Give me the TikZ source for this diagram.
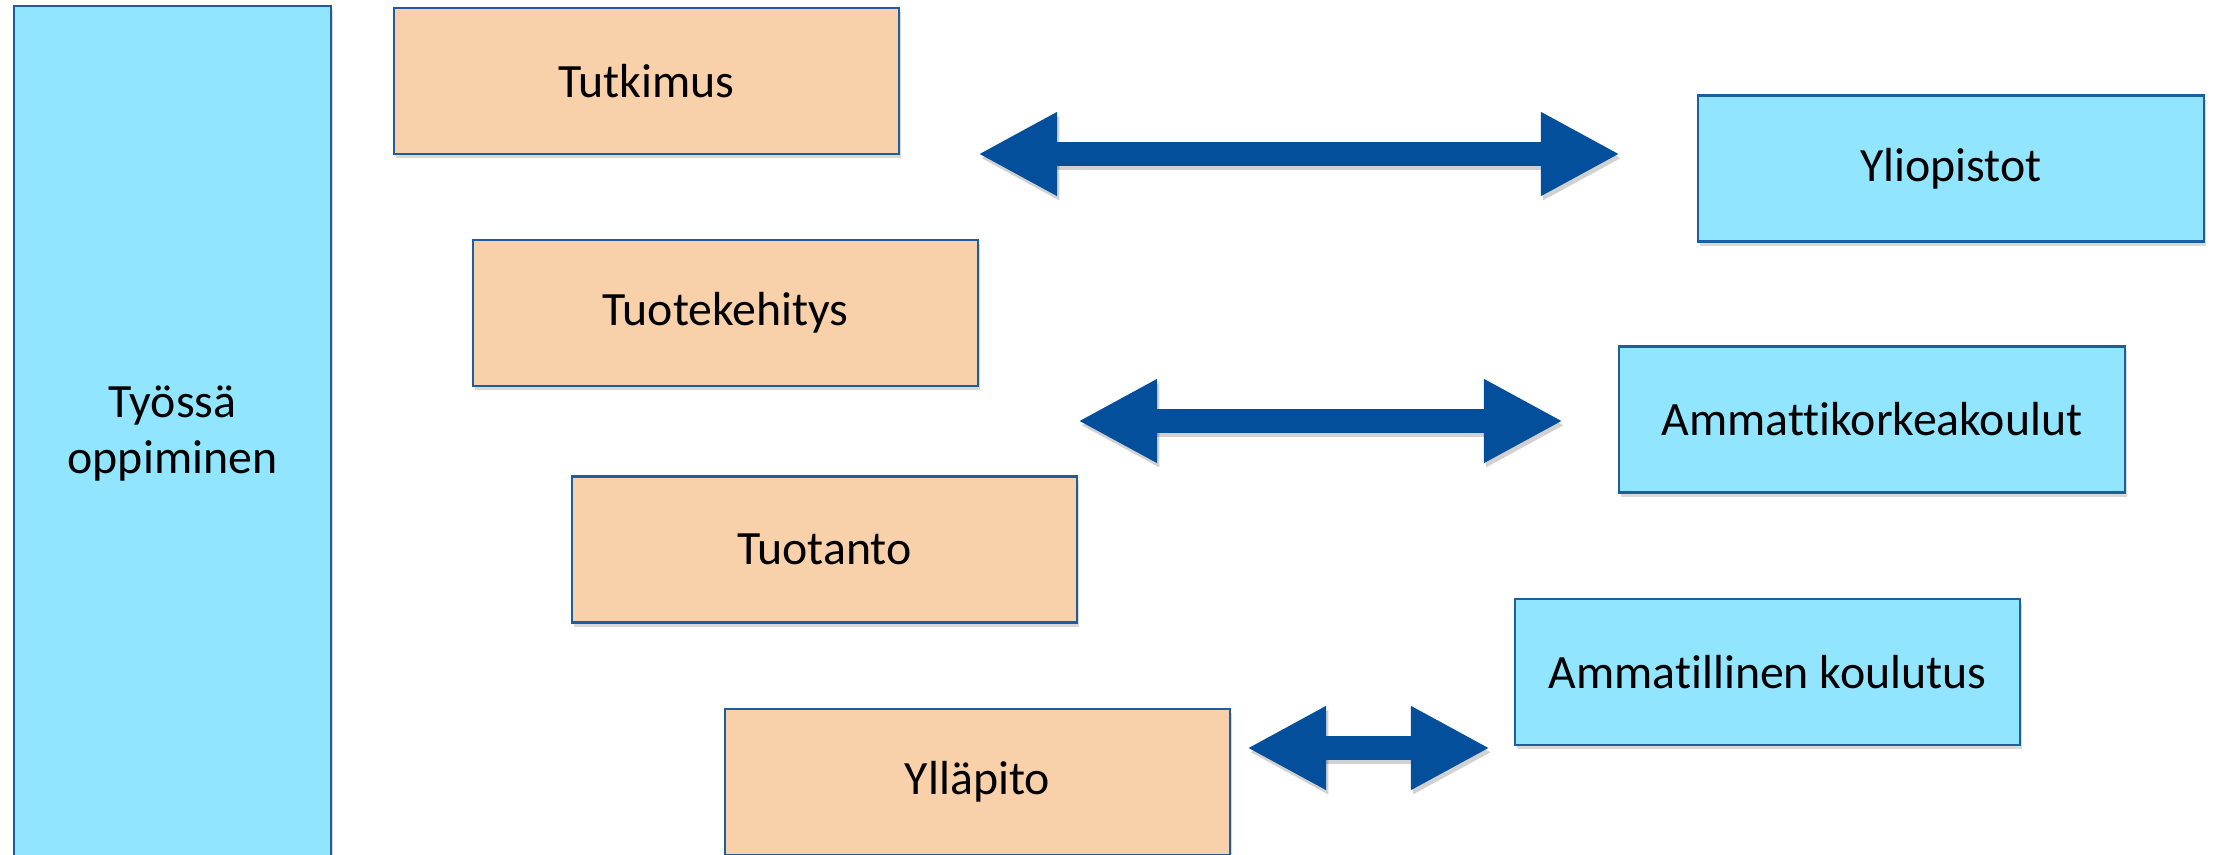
\documentclass[tikz,border=0pt]{standalone}
\usepackage{fontspec}
\setmainfont[Ligatures=NoCommon]{Carlito}
\usepackage{tikz}
\usetikzlibrary{arrows.meta,shadows}
\definecolor{boxBlue}{HTML}{92E5FE}
\definecolor{boxPeach}{HTML}{F8D0AA}
\definecolor{lineBlue}{HTML}{1F5E9E}
\definecolor{arrowBlue}{HTML}{034F9B}

\begin{document}
\begin{tikzpicture}
      [x=0.01cm, y=-0.01cm,
       nodeBox/.style={rectangle, draw=lineBlue, line width=0.6pt,
         minimum width=5.05cm, minimum height=1.46cm, align=center,
         font=\fontsize{13.6}{16}\selectfont,
         drop shadow={shadow xshift=0.6pt, shadow yshift=-1.2pt, opacity=0.3}},
       nodeWork/.style={nodeBox, fill=boxPeach},
       nodeSchool/.style={nodeBox, fill=boxBlue},
       bigArrow/.style={arrowBlue, line width=6.8pt,
         {Triangle[length=22.5pt, width=22.2pt]}-{Triangle[length=22.5pt, width=22.2pt]}},
       arrowShade/.style={bigArrow, black, opacity=0.18}]
      \useasboundingbox (0,0) rectangle (2216,855);

      \node[nodeSchool, minimum width=3.17cm, minimum height=8.55cm] (tyo) at (172.5,433.5) {Työssä\\oppiminen};

      \node[nodeWork] (tut) at (646.5,81) {Tutkimus};
      \node[nodeWork] (kehi) at (725.5,313) {Tuotekehitys};
      \node[nodeWork] (tuot) at (824.5,549.5) {Tuotanto};
      \node[nodeWork] (yllapito) at (977.5,782) {Ylläpito};

      \node[nodeSchool] (yo) at (1951,168.5) {Yliopistot};
      \node[nodeSchool] (amk) at (1872,419.5) {Ammattikorkeakoulut};
      \node[nodeSchool] (amis) at (1767.5,672) {Ammatillinen koulutus};

      \coordinate (a1l) at (978,154);
      \coordinate (a1r) at (1620,154);
      \coordinate (a2l) at (1078,421);
      \coordinate (a2r) at (1563,421);
      \coordinate (a3l) at (1247,748);
      \coordinate (a3r) at (1490,748);

      % shadow first, then the arrow
      \foreach \src/\dst in {a1l/a1r,a2l/a2r,a3l/a3r}
      {
      \draw[arrowShade, transform canvas={shift={(0.6pt,-1.2pt)}}] (\src) -- (\dst);
      \draw[bigArrow] (\src) -- (\dst);
      }
    \end{tikzpicture}
\end{document}
